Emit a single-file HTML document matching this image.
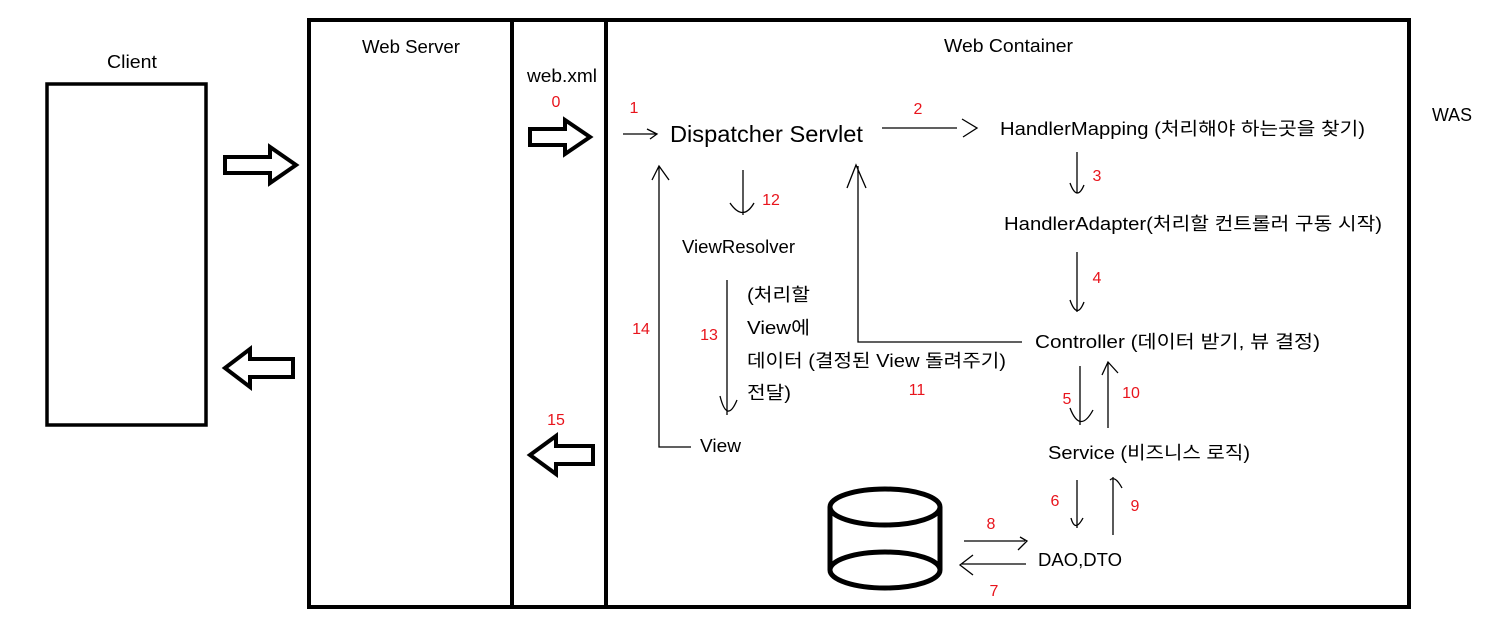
<!DOCTYPE html>
<html><head><meta charset="utf-8"><style>
html,body{margin:0;padding:0;background:#fff}
svg text{font-family:"Liberation Sans","Noto Sans CJK KR",sans-serif;font-size:18px;fill:#000}
svg text.r{fill:#e8141c;font-size:16px}
</style></head><body>
<svg width="1504" height="638" viewBox="0 0 1504 638" xmlns="http://www.w3.org/2000/svg">
<g fill="none" stroke="#000">
<rect x="309" y="20" width="1100" height="587" stroke-width="4"/>
<line x1="512" y1="20" x2="512" y2="607" stroke-width="4"/>
<line x1="606" y1="20" x2="606" y2="607" stroke-width="4"/>
<rect x="47" y="84" width="159" height="341" stroke-width="3.5"/>
<path d="M225 157 H270 V147 L296 165 L270 183 V173 H225 Z" stroke-width="4"/>
<path d="M293 359 H250 V349 L225 368 L250 387 V377 H293 Z" stroke-width="4"/>
<path d="M530 129 H565 V120 L590 137 L565 154 V145 H530 Z" stroke-width="4"/>
<path d="M593 446 H556 V436 L530 455 L556 474 V464 H593 Z" stroke-width="4"/>
<g stroke-width="5">
<ellipse cx="885" cy="507" rx="55" ry="18"/>
<ellipse cx="885" cy="570" rx="55" ry="18"/>
<line x1="830" y1="507" x2="830" y2="570"/>
<line x1="940" y1="507" x2="940" y2="570"/>
</g>
<g stroke-width="1.3">
<path d="M623 134 H656 M647 129 L657 134 L650 139"/>
<path d="M882 128 H957 M962 119 L977 128 L963 137"/>
<path d="M1077 152 V193 M1070 183 Q1077 202 1084 185"/>
<path d="M1077 252 V312 M1070 300 Q1077 320 1084 302"/>
<path d="M1022 342 H858 V166 M847 188 L856 165 L866 188"/>
<path d="M691 447 H659 V167 M652 180 L659 166 L669 180"/>
<path d="M743 170 V215 M730 203 Q743 222 754 203"/>
<path d="M727 280 V415 M720 396 Q727 424 737 400"/>
<path d="M1080 366 V425 M1070 408 Q1080 434 1093 410"/>
<path d="M1108 428 V363 M1102 375 L1108 362 L1118 373"/>
<path d="M1077 480 V528 M1071 518 Q1075 533 1083 518"/>
<path d="M1113 535 V477 M1110 480 Q1115 475 1122 488"/>
<path d="M964 541 H1025 M1020 537 L1027 541 L1018 550"/>
<path d="M1026 564 H962 M973 555 L960 565 L973 575"/>
</g>
</g>
<text x="107" y="68" textLength="50" lengthAdjust="spacingAndGlyphs">Client</text>
<text x="362" y="53" textLength="98" lengthAdjust="spacingAndGlyphs">Web Server</text>
<text x="527" y="82" textLength="70" lengthAdjust="spacingAndGlyphs">web.xml</text>
<text class="r" x="556" y="107" text-anchor="middle">0</text>
<text x="944" y="52" textLength="129" lengthAdjust="spacingAndGlyphs">Web Container</text>
<text x="1432" y="121" textLength="40" lengthAdjust="spacingAndGlyphs">WAS</text>
<text class="r" x="634" y="113" text-anchor="middle">1</text>
<text x="670" y="142" style="font-size:23px" textLength="193" lengthAdjust="spacingAndGlyphs">Dispatcher Servlet</text>
<text class="r" x="918" y="114" text-anchor="middle">2</text>
<text x="1000" y="135" textLength="365" lengthAdjust="spacingAndGlyphs">HandlerMapping (처리해야 하는곳을 찾기)</text>
<text class="r" x="1097" y="181" text-anchor="middle">3</text>
<text x="1004" y="230" textLength="378" lengthAdjust="spacingAndGlyphs">HandlerAdapter(처리할 컨트롤러 구동 시작)</text>
<text class="r" x="1097" y="283" text-anchor="middle">4</text>
<text x="1035" y="348" textLength="285" lengthAdjust="spacingAndGlyphs">Controller (데이터 받기, 뷰 결정)</text>
<text class="r" x="1067" y="404" text-anchor="middle">5</text>
<text class="r" x="1131" y="398" text-anchor="middle">10</text>
<text x="1048" y="459" textLength="202" lengthAdjust="spacingAndGlyphs">Service (비즈니스 로직)</text>
<text class="r" x="1055" y="506" text-anchor="middle">6</text>
<text class="r" x="1135" y="511" text-anchor="middle">9</text>
<text x="1038" y="566" textLength="84" lengthAdjust="spacingAndGlyphs">DAO,DTO</text>
<text class="r" x="991" y="529" text-anchor="middle">8</text>
<text class="r" x="994" y="596" text-anchor="middle">7</text>
<text class="r" x="771" y="205" text-anchor="middle">12</text>
<text x="682" y="253" textLength="113" lengthAdjust="spacingAndGlyphs">ViewResolver</text>
<text x="747" y="301" textLength="63" lengthAdjust="spacingAndGlyphs">(처리할</text>
<text x="747" y="334" textLength="63" lengthAdjust="spacingAndGlyphs">View에</text>
<text x="747" y="367" textLength="259" lengthAdjust="spacingAndGlyphs">데이터 (결정된 View 돌려주기)</text>
<text x="747" y="399" textLength="44" lengthAdjust="spacingAndGlyphs">전달)</text>
<text class="r" x="709" y="340" text-anchor="middle">13</text>
<text class="r" x="641" y="334" text-anchor="middle">14</text>
<text class="r" x="917" y="395" text-anchor="middle">11</text>
<text x="700" y="452" textLength="41" lengthAdjust="spacingAndGlyphs">View</text>
<text class="r" x="556" y="425" text-anchor="middle">15</text>
</svg>
</body></html>
